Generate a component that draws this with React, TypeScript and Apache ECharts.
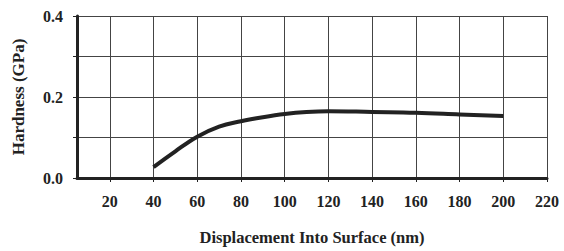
import React, { useEffect, useRef } from "react";
import * as echarts from "echarts";

const xTicks = [20, 40, 60, 80, 100, 120, 140, 160, 180, 200, 220];
const yLabelsShown = [0, 0.2, 0.4];
const depth = [40, 50, 60, 70, 80, 90, 100, 110, 120, 140, 160, 180, 200];
const hardness = [0.027, 0.066, 0.102, 0.127, 0.14, 0.15, 0.158, 0.163, 0.165, 0.163, 0.161, 0.157, 0.153];

const FONT = "'Liberation Serif', 'Times New Roman', serif";

export default function App() {
  const ref = useRef<HTMLDivElement>(null);
  useEffect(() => {
    const chart = echarts.init(ref.current!, null, { renderer: "svg" });
    chart.setOption({
      animation: false,
      backgroundColor: "#ffffff",
      grid: { left: 77, right: 17, top: 16, bottom: 71, containLabel: false },
      xAxis: {
        type: "value",
        min: 5,
        max: 220,
        name: "Displacement Into Surface (nm)",
        nameLocation: "middle",
        nameGap: 51,
        nameTextStyle: { fontFamily: FONT, fontWeight: "bold", fontSize: 16.5, color: "#222" },
        axisLine: { show: true, lineStyle: { color: "#222", width: 3 } },
        axisTick: { show: true, inside: false, length: 4, customValues: xTicks, lineStyle: { color: "#222", width: 1 } },
        axisLabel: {
          customValues: xTicks,
          margin: 15,
          fontFamily: FONT,
          fontWeight: "bold",
          fontSize: 16,
          color: "#222",
        },
        splitLine: { show: true, lineStyle: { color: "#444", width: 1 } },
      },
      yAxis: {
        type: "value",
        min: 0,
        max: 0.4,
        interval: 0.1,
        name: "Hardness (GPa)",
        nameLocation: "middle",
        nameGap: 50,
        nameTextStyle: { fontFamily: FONT, fontWeight: "bold", fontSize: 17, color: "#222" },
        axisLine: { show: true, lineStyle: { color: "#222", width: 3 } },
        axisTick: { show: true, inside: false, length: 4, lineStyle: { color: "#222", width: 1 } },
        axisLabel: {
          margin: 14,
          fontFamily: FONT,
          fontWeight: "bold",
          fontSize: 16,
          color: "#222",
          formatter: (v: number) =>
            yLabelsShown.some((s) => Math.abs(s - v) < 1e-9) ? v.toFixed(1) : "",
        },
        splitLine: { show: true, lineStyle: { color: "#444", width: 1 } },
      },
      series: [
        {
          type: "line",
          data: depth.map((d, i) => [d, hardness[i]]),
          smooth: 0.4,
          showSymbol: false,
          lineStyle: { color: "#222", width: 4 },
        },
      ],
    });
    return () => chart.dispose();
  }, []);
  return <div ref={ref} style={{ width: 564, height: 251, position: "absolute", left: 0, top: 0 }} />;
}
